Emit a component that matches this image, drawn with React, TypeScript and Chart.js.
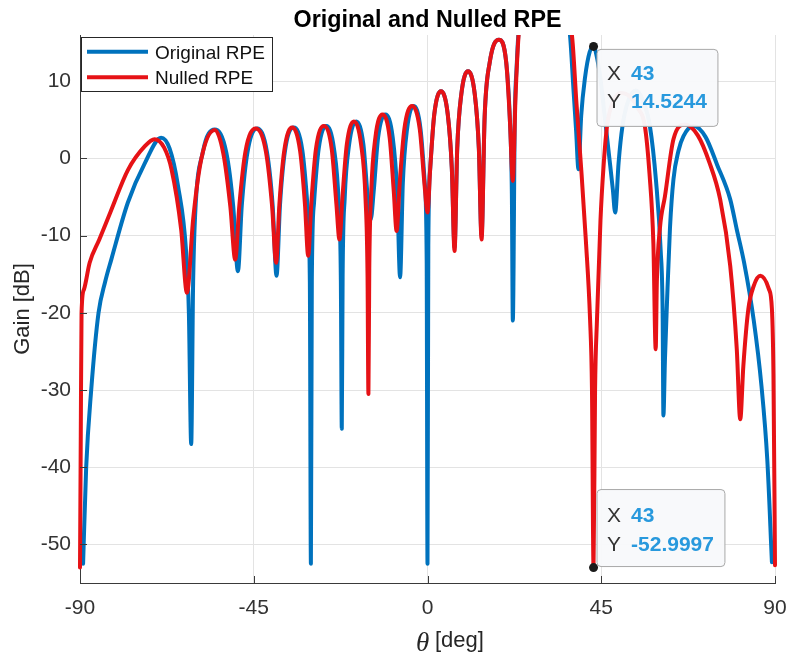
import React, { useEffect, useRef } from 'react';
import { Chart, registerables } from 'chart.js';

Chart.register(...registerables);

const chartTitle = 'Original and Nulled RPE';
const xLabelSymbol = 'θ';
const xLabelUnit = '[deg]';
const yLabel = 'Gain [dB]';
const xTicks = [-90, -45, 0, 45, 90];
const yTicks = [-50, -40, -30, -20, -10, 0, 10];
const seriesNames = ['Original RPE', 'Nulled RPE'];

const origTheta = [
  -89.2, -88.4, -87.1, -85.2, -83.5, -81.9, -77.6, -73.2, -69.0, -66.8, -64.6, -62.5, -61.8, -61.2,
  -60.7, -60.2, -58.2, -55.1, -52.1, -50.3, -49.1, -48.1, -46.6, -44.1, -41.6, -40.1, -39.1,
  -38.2, -36.9, -34.65, -32.4, -31.1, -30.47, -30.2, -29.96, -29.4, -28.2, -26.2, -24.2, -23.0,
  -22.44, -22.2, -21.98, -21.45, -20.3, -18.45, -16.6, -15.45, -14.7, -13.94, -12.8, -10.9, -9.0,
  -7.86, -7.1, -6.39, -5.3, -3.55, -1.8, -0.71, -0.21, 0, 0.21, 0.7, 1.75, 3.5, 5.25, 6.3, 7.0,
  7.7, 8.75, 10.5, 12.25, 13.3, 14.0, 14.8, 16.1, 18.5, 20.4, 21.3, 21.85, 22.1, 22.6, 23.1, 23.6,
  24.5, 26.5, 30, 33.5, 35.5, 36.9, 37.8, 38.5, 39.1, 39.8, 40.8, 42, 43, 44, 45, 46, 47, 48, 48.6,
  49.5, 50.5, 52, 54, 55.8, 57.6, 59.2, 60.4, 60.9, 61.1, 61.5, 62.0, 62.8, 63.7, 65, 66.3, 68.9,
  72, 75, 78.4, 80.1, 82, 84.5, 86.5, 88, 89.2,
];
const origGain = [
  -52.5, -40, -30, -20, -16, -13.1, -5.7, -0.6, 2.7, 1.3, -3.6, -12.2, -20, -37,
  -16, -7.5, 0.8, 3.75, 0.75, -6.3, -14.6, -6.1, 0.9, 3.9, 0.9, -6.1, -15.2,
  -6, 1, 4.0, 1, -6, -16, -52.5, -15.8, -5.8, 1.2, 4.2, 1.2, -5.8,
  -15.8, -35, -15.2, -5.2, 1.8, 4.8, 1.8, -5.2, -7.9, -4.3, 2.7, 5.7, 2.7,
  -4.3, -15.4, -3.2, 3.8, 6.8, 3.8, -3.2, -13.2, -52.5, -11.3, -1.3, 5.7, 8.7, 5.7, -1.3, -11.5,
  1.3, 8.3, 11.3, 8.3, 1.3, -10, 5.4, 12.4, 15.4, 12.4, 5.4, -4.6, -21, 5, 12, 16.5,
  19.5, 22, 23, 22, 19.5, 16, 9, 3.5, -1.4, 5.5, 10.5, 13.8, 14.5244, 12.8, 9.5, 5, 0.5, -4, -7,
  -0.5, 4.2, 7.5, 8.8, 7.5, 4.2, -3, -12, -20, -33.3, -26, -19, -9, -2.7, 1, 2.9, 4.2,
  2.8, -0.8, -5.3, -9.2, -13.5, -21, -29.5, -39, -52.3,
];

const nullTheta = [
  -90, -89.8, -89.6, -89.0, -87.5, -85.0, -82.0, -77.6, -73.2, -70.7, -68.2, -66.3, -63.8, -62.3,
  -60.7, -58.6, -55.1, -52.9, -51.05, -49.8, -48.74, -47.15, -44.5, -41.85, -40.26, -39.2,
  -38.37, -37.1, -35.05, -33.0, -31.73, -30.9, -30.09, -28.9, -26.85, -24.8, -23.61, -22.8,
  -22.05, -20.9, -19.05, -17.2, -16.05, -15.53, -15.3, -15.08, -14.57, -13.5, -11.65, -9.8, -8.73,
  -8.0, -7.2, -6.0, -4.0, -2.0, -0.8, 0, 0.7, 1.75, 3.5, 5.25, 6.3, 7.0, 7.7, 8.75, 10.5, 12.25,
  13.3, 14.0, 14.8, 16.1, 18.5, 20.4, 21.3, 22.1, 22.8, 23.6, 24.8, 27.5, 30.5, 33.5, 36.0, 37.4,
  38.6, 39.9, 41.0, 42.1, 42.6, 43, 43.4, 43.9, 44.8, 45.6, 46.5, 48, 50, 52.5, 54.5, 56.3, 57.5,
  58.5, 59.1, 59.4, 60.2, 61.5, 63.7, 66.7, 70, 73, 75.8, 78.4, 80.1, 81.0, 81.8, 83.1, 84.5, 86.2,
  88.4, 89.2, 89.6, 90,
];
const nullGain = [
  -53, -36, -20, -17, -13.5, -10.5, -6.8, -1.5, 1.6, 2.5, 1.4, -1.4, -9.2, -17.4,
  -7.9, -0.1, 3.7, 0.7, -6.3, -13.1, -6.1, 0.9, 3.9, 0.9, -6.1, -13.5,
  -6, 1, 4.0, 1, -6, -12.6, -5.8, 1.2, 4.2, 1.2, -5.8, -10.5,
  -5.2, 1.8, 4.8, 1.8, -5.2, -15.2, -30.5, -14.3, -4.3, 2.7, 5.7, 2.7, -4.3,
  -9.4, -3.2, 3.8, 6.8, 3.8, -3.2, -7, -1.3, 5.7, 8.7, 5.7, -1.3, -12, 1.3, 8.3, 11.3, 8.3,
  1.3, -10.5, 5.4, 12.4, 15.4, 12.4, 5.4, -2.9, 8, 16, 20, 22.5, 22.5, 21, 18, 16,
  7, -2, -10.5, -20.8, -30, -52.9997, -30, -20.8, -8, -1, 4.2, 7.3, 8.5, 8, 6.5, 4.2, -2,
  -11, -24.7, -16, -9, -4.9, 2.5, 4.4, 3, -0.5, -5.3, -13.9, -24.7, -33.8, -26.9, -19.5, -16.5, -15.2,
  -16.9, -19.5, -28, -52.7,
];

const tipTheta = [43, 43];
const tipGain = [14.5244, -52.9997];
const tipXText = ['43', '43'];
const tipYText = ['14.5244', '-52.9997'];

const BLUE = 'rgb(0,114,189)';
const RED = 'rgb(230,18,22)';
const AXIS = '#3a3a3a';
const SANS = '"Liberation Sans", Arial, Helvetica, sans-serif';

const overlayPlugin = {
  id: 'overlay',
  afterDraw(chart: any) {
    const { ctx, chartArea: ca, scales } = chart;
    const xs = scales.x;
    const ys = scales.y;
    ctx.save();

    // inward ticks
    ctx.strokeStyle = AXIS;
    ctx.lineWidth = 1;
    ctx.beginPath();
    xTicks.forEach((v) => {
      const px = Math.round(xs.getPixelForValue(v)) + 0.5;
      ctx.moveTo(px, ca.bottom);
      ctx.lineTo(px, ca.bottom - 7);
    });
    yTicks.forEach((v) => {
      const py = Math.round(ys.getPixelForValue(v)) + 0.5;
      ctx.moveTo(ca.left, py);
      ctx.lineTo(ca.left + 7, py);
    });
    ctx.stroke();

    // title
    ctx.fillStyle = '#000';
    ctx.font = `bold 23.3px ${SANS}`;
    ctx.textAlign = 'center';
    ctx.textBaseline = 'alphabetic';
    ctx.fillText(chartTitle, (ca.left + ca.right) / 2, 27);

    // y label
    ctx.save();
    ctx.translate(28.5, (ca.top + ca.bottom) / 2);
    ctx.rotate(-Math.PI / 2);
    ctx.font = `22px ${SANS}`;
    ctx.fillStyle = '#262626';
    ctx.textAlign = 'center';
    ctx.fillText(yLabel, 0, 0);
    ctx.restore();

    // x label
    ctx.textAlign = 'left';
    ctx.fillStyle = '#262626';
    ctx.font = `italic 27px "Liberation Serif", "DejaVu Serif", serif`;
    ctx.fillText(xLabelSymbol, 416, 651);
    ctx.font = `22px ${SANS}`;
    ctx.fillText(xLabelUnit, 435, 647);

    // legend
    const lx = 81.5, ly = 37.5, lw = 191, lh = 54;
    ctx.fillStyle = '#fff';
    ctx.fillRect(lx, ly, lw, lh);
    ctx.strokeStyle = '#262626';
    ctx.lineWidth = 1;
    ctx.strokeRect(lx, ly, lw, lh);
    const legendColors = [BLUE, RED];
    const legendY = [51.7, 77.3];
    seriesNames.forEach((name, i) => {
      ctx.strokeStyle = legendColors[i];
      ctx.lineWidth = 4;
      ctx.beginPath();
      ctx.moveTo(87, legendY[i]);
      ctx.lineTo(148, legendY[i]);
      ctx.stroke();
      ctx.fillStyle = '#111';
      ctx.font = `19px ${SANS}`;
      ctx.textAlign = 'left';
      ctx.fillText(name, 155, legendY[i] + 7);
    });

    // data tips
    tipTheta.forEach((t, i) => {
      const px = xs.getPixelForValue(t);
      const py = ys.getPixelForValue(tipGain[i]);
      ctx.font = `bold 21px ${SANS}`;
      const vw = Math.max(ctx.measureText(tipXText[i]).width, ctx.measureText(tipYText[i]).width);
      const bx = px + 3.5;
      const bw = 34 + vw + 11;
      const bh = 77;
      const by = i === 0 ? py + 3 : py - 78;
      ctx.beginPath();
      ctx.roundRect(bx, by, bw, bh, 4);
      ctx.fillStyle = 'rgba(248,249,251,0.97)';
      ctx.fill();
      ctx.strokeStyle = '#a8a8a8';
      ctx.lineWidth = 1;
      ctx.stroke();
      const r1 = i === 0 ? 74 - by : 516.7 - by;
      const r2 = r1 + 28.5;
      ctx.textBaseline = 'middle';
      ctx.font = `21px ${SANS}`;
      ctx.fillStyle = '#333';
      ctx.fillText('X', bx + 10, by + r1);
      ctx.fillText('Y', bx + 10, by + r2);
      ctx.font = `bold 21px ${SANS}`;
      ctx.fillStyle = '#2899DD';
      ctx.fillText(tipXText[i], bx + 34, by + r1);
      ctx.fillText(tipYText[i], bx + 34, by + r2);
      ctx.textBaseline = 'alphabetic';
      ctx.beginPath();
      ctx.arc(px, py, 4.5, 0, Math.PI * 2);
      ctx.fillStyle = '#1a1a1a';
      ctx.fill();
    });

    ctx.restore();
  },
};

export default function App() {
  const ref = useRef<HTMLCanvasElement | null>(null);
  useEffect(() => {
    if (!ref.current) return;
    const blueData = origTheta.map((x, i) => ({ x, y: origGain[i] }));
    const redData = nullTheta.map((x, i) => ({ x, y: nullGain[i] }));
    const chart = new Chart(ref.current, {
      type: 'line',
      data: {
        datasets: [
          {
            label: seriesNames[0],
            data: blueData,
            borderColor: BLUE,
            borderWidth: 4,
            pointRadius: 0,
            cubicInterpolationMode: 'monotone',
            borderJoinStyle: 'round',
            borderCapStyle: 'round',
            order: 1,
            clip: { left: 5, top: 0, right: 5, bottom: 5 },
          },
          {
            label: seriesNames[1],
            data: redData,
            borderColor: RED,
            borderWidth: 4,
            pointRadius: 0,
            cubicInterpolationMode: 'monotone',
            borderJoinStyle: 'round',
            borderCapStyle: 'round',
            order: 0,
            clip: { left: 5, top: 0, right: 5, bottom: 5 },
          },
        ],
      },
      options: {
        responsive: false,
        animation: false,
        devicePixelRatio: 1,
        layout: { padding: { top: 35, right: 14, bottom: 0, left: 0 } },
        plugins: { legend: { display: false }, tooltip: { enabled: false }, title: { display: false } },
        scales: {
          x: {
            type: 'linear',
            min: -90,
            max: 90,
            afterFit: (s: any) => { s.height = 72; s.paddingLeft = 0; s.paddingRight = 0; },
            afterBuildTicks: (s: any) => { s.ticks = xTicks.map((v) => ({ value: v })); },
            grid: { color: '#e3e3e3', drawTicks: false, lineWidth: 1 },
            border: { color: AXIS, width: 1 },
            ticks: {
              padding: 13,
              color: '#333',
              font: { family: SANS, size: 21 },
              callback: (v: any) => String(v),
            },
          },
          y: {
            type: 'linear',
            min: -55,
            max: 16,
            afterFit: (s: any) => { s.width = 80; s.paddingTop = 0; s.paddingBottom = 0; },
            afterBuildTicks: (s: any) => { s.ticks = yTicks.map((v) => ({ value: v })); },
            grid: { color: '#e3e3e3', drawTicks: false, lineWidth: 1 },
            border: { color: AXIS, width: 1 },
            ticks: {
              padding: 9,
              color: '#333',
              font: { family: SANS, size: 21 },
              callback: (v: any) => String(v),
            },
          },
        },
      },
      plugins: [overlayPlugin],
    });
    return () => chart.destroy();
  }, []);
  return (
    <div style={{ position: 'fixed', left: 0, top: 0, width: 789, height: 655, background: '#fff' }}>
      <canvas ref={ref} width={789} height={655} style={{ width: 789, height: 655 }} />
    </div>
  );
}
